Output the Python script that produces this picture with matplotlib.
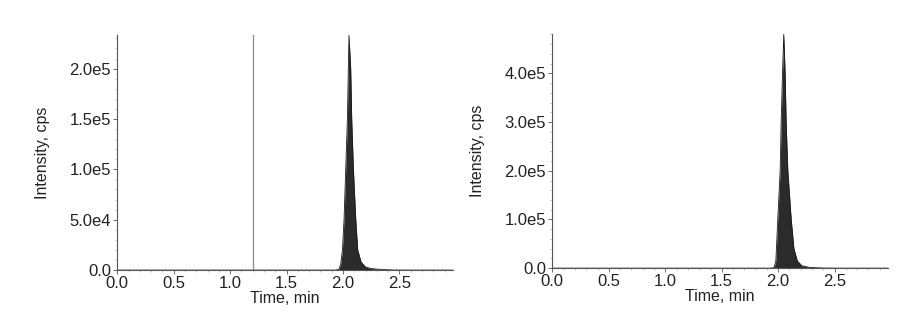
import matplotlib.pyplot as plt
from matplotlib.ticker import AutoMinorLocator

plt.rcParams['font.family'] = ['Liberation Sans', 'DejaVu Sans']

# left chromatogram (time in min, intensity in cps)
t_left = [0.0, 1.94, 1.964, 1.98, 1.995, 2.009, 2.024, 2.039, 2.047, 2.053,
          2.068, 2.077, 2.092, 2.113, 2.13, 2.16, 2.20, 2.25, 2.35, 2.45, 2.55, 2.97]
i_left = [0, 0, 1000, 6000, 20000, 50000, 100000, 150000, 200000, 233000,
          200000, 150000, 100000, 50000, 20000, 8000, 3000, 1500, 500, 100, 0, 0]
marker_time = 1.2

# right chromatogram
t_right = [0.0, 1.94, 1.965, 1.98, 1.985, 1.997, 2.018, 2.027, 2.039, 2.050,
           2.062, 2.071, 2.086, 2.116, 2.14, 2.17, 2.21, 2.28, 2.40, 2.55, 2.97]
i_right = [0, 0, 2000, 15000, 40000, 100000, 200000, 300000, 400000, 480000,
           400000, 300000, 200000, 100000, 40000, 15000, 5000, 1500, 300, 0, 0]

left_ticks = [0, 50000, 100000, 150000, 200000]
left_labels = ['0.0', '5.0e4', '1.0e5', '1.5e5', '2.0e5']
right_ticks = [0, 100000, 200000, 300000, 400000]
right_labels = ['0.0', '1.0e5', '2.0e5', '3.0e5', '4.0e5']
x_ticks = [0.0, 0.5, 1.0, 1.5, 2.0, 2.5]
x_labels = ['0.0', '0.5', '1.0', '1.5', '2.0', '2.5']

fig = plt.figure(figsize=(9.16, 3.2), dpi=100)
ax1 = fig.add_axes([0.128, 0.156, 0.366, 0.735])
ax2 = fig.add_axes([0.603, 0.162, 0.366, 0.732])


def style(ax, t, y, ymax, yt, yl):
    ax.fill_between(t, y, color='#2b2b2b', lw=0)
    ax.plot(t, y, color='#1a1a1a', lw=0.6)
    ax.set_xlim(0, 2.97)
    ax.set_ylim(0, ymax)
    ax.spines['top'].set_visible(False)
    ax.spines['right'].set_visible(False)
    for s in ['left', 'bottom']:
        ax.spines[s].set_color('#555555')
        ax.spines[s].set_linewidth(0.8)
    ax.set_xticks(x_ticks)
    ax.set_xticklabels(x_labels)
    ax.set_yticks(yt)
    ax.set_yticklabels(yl)
    ax.xaxis.set_minor_locator(AutoMinorLocator(5))
    ax.yaxis.set_minor_locator(AutoMinorLocator(5))
    ax.tick_params(which='major', length=3, width=0.6, color='#555555',
                   labelsize=12, labelcolor='#222222', pad=1.5)
    ax.tick_params(which='minor', length=1.2, width=0.4, color='#999999')
    ax.set_xlabel('Time, min', fontsize=11.5, color='#222222', labelpad=0)
    ax.set_ylabel('Intensity, cps', fontsize=11.5, color='#222222', labelpad=14)


style(ax1, t_left, i_left, 233500, left_ticks, left_labels)
ax1.axvline(marker_time, color='#888888', lw=0.9)
style(ax2, t_right, i_right, 481000, right_ticks, right_labels)

fig.savefig('out.png', dpi=100)
